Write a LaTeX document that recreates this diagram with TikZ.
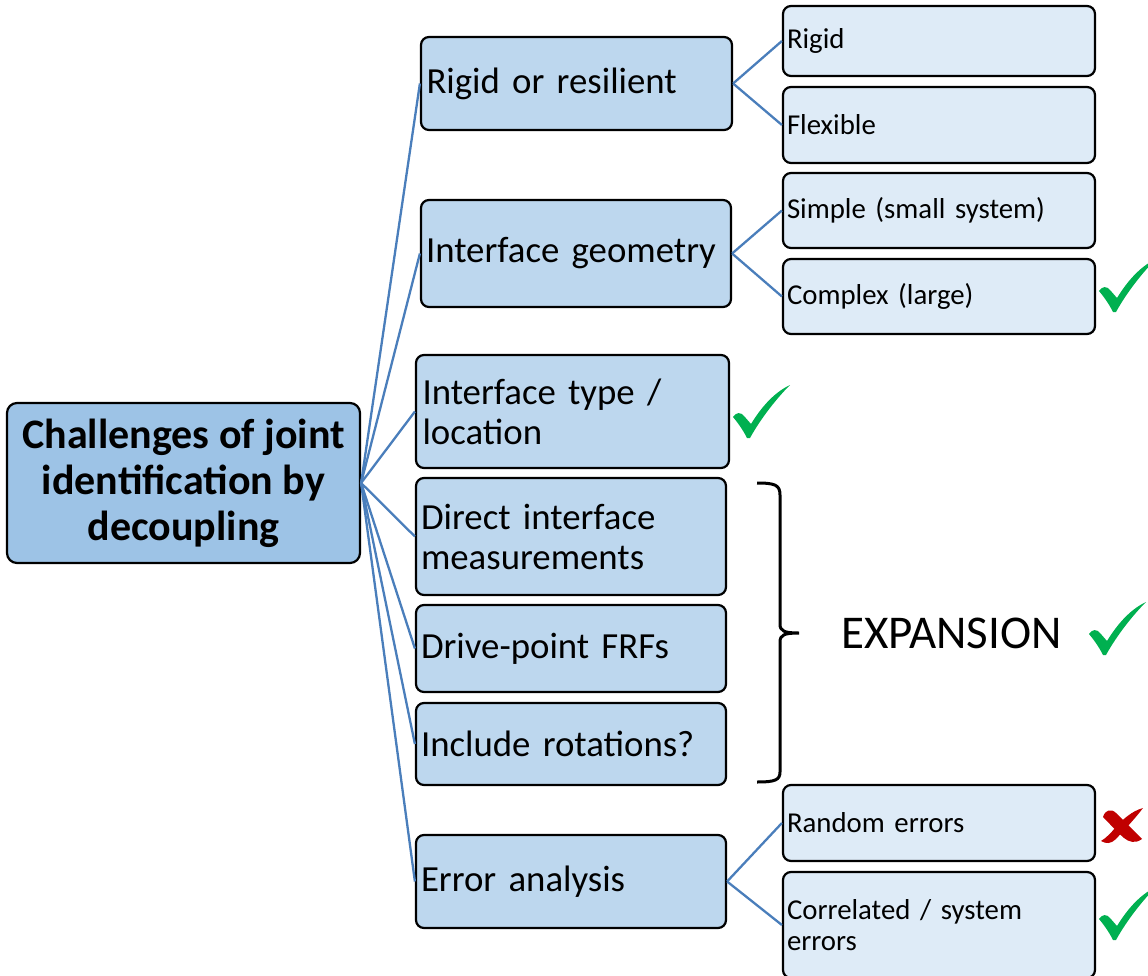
\documentclass[tikz,border=0pt]{standalone}
\usepackage{fontspec}
\setmainfont{Carlito}
\definecolor{rootfill}{HTML}{9DC3E6}
\definecolor{midfill}{HTML}{BDD7EE}
\definecolor{leaffill}{HTML}{DEEBF7}
\definecolor{connblue}{HTML}{4A7EBB}
\definecolor{chkgreen}{HTML}{00B050}
\definecolor{crossred}{HTML}{C00000}
\begin{document}
\begin{tikzpicture}[x=1pt,y=-1pt,
  rootbox/.style={draw=black, line width=2.2pt, rounded corners=10pt, fill=rootfill,
    align=center, inner sep=0pt, minimum width=353pt, minimum height=160pt,
    font=\fontsize{42}{46}\selectfont\bfseries},
  midbox/.style={draw=black, line width=2.2pt, rounded corners=8pt, fill=midfill,
    align=left, inner xsep=5pt, inner ysep=0pt, text width=300pt,
    font=\fontsize{36.8}{40}\selectfont},
  leafbox/.style={draw=black, line width=2.2pt, rounded corners=8pt, fill=leaffill,
    align=left, inner xsep=4pt, inner ysep=0pt, text width=304pt,
    font=\fontsize{28.8}{30.5}\selectfont},
  conn/.style={draw=connblue, line width=2.3pt},
  chk/.pic={\fill[chkgreen] (-14,-21) .. controls (-11,-26) and (-6,-26) .. (-3,-22)
      -- (4,-14) .. controls (15,-32) and (28,-46) .. (43,-53)
      .. controls (30,-40) and (14,-20) .. (3,0) -- (0,0)
      .. controls (-4,-8) and (-9,-15) .. (-14,-21) -- cycle;},
  crs/.pic={\fill[crossred] (-19,-9) .. controls (-17,-16) and (-11,-18) .. (-6,-13)
      .. controls (2,-5) and (10,3) .. (20,13) .. controls (13,18) and (7,16) .. (2,12)
      .. controls (-6,5) and (-13,-3) .. (-19,-9) -- cycle;
      \fill[crossred] (21,-18) .. controls (12,-6) and (2,4) .. (-6,13)
      .. controls (-11,18) and (-16,18) .. (-21,15) .. controls (-16,12) and (-11,7) .. (-7,2)
      .. controls (1,-7) and (10,-15) .. (21,-18) -- cycle;}
]
\useasboundingbox (0,0) rectangle (1148,976);
\clip (0,0) rectangle (1148,976);

% root
\node[rootbox] (root) at (183.5,483) {Challenges of joint\\identification by\\decoupling};

% level 1
\node[midbox, minimum width=311pt, minimum height=93pt]  (m1) at (576.5,83.5) {Rigid or resilient};
\node[midbox, minimum width=310pt, minimum height=107pt] (m2) at (576,253.5) {Interface geometry};
\node[midbox, minimum width=313pt, minimum height=113pt] (m3) at (572.5,411.5) {Interface type /\\location};
\node[midbox, minimum width=310pt, minimum height=117pt] (m4) at (571,536.5) {Direct interface\\measurements};
\node[midbox, minimum width=310pt, minimum height=87pt]  (m5) at (571,648.5) {Drive-point FRFs};
\node[midbox, minimum width=310pt, minimum height=82pt]  (m6) at (571,744) {Include rotations?};
\node[midbox, minimum width=310pt, minimum height=93pt]  (m7) at (571,881.5) {Error analysis};

% level 2
\node[leafbox, minimum width=312pt, minimum height=70pt]  (l1) at (939,41) {Rigid};
\node[leafbox, minimum width=312pt, minimum height=76pt]  (l2) at (939,125) {Flexible};
\node[leafbox, minimum width=312pt, minimum height=75pt]  (l3) at (939,210.5) {Simple (small system)};
\node[leafbox, minimum width=312pt, minimum height=75pt]  (l4) at (939,296.5) {Complex (large)};
\node[leafbox, minimum width=312pt, minimum height=76pt]  (l5) at (939,823) {Random errors};
\node[leafbox, minimum width=312pt, minimum height=106pt] (l6) at (939,925) {Correlated / system\\errors};

% connectors
\foreach \m in {m1,m2,m3,m4,m5,m6,m7}{\draw[conn] (root.east) -- (\m.west);}
\draw[conn] (m1.east) -- (l1.west);
\draw[conn] (m1.east) -- (l2.west);
\draw[conn] (m2.east) -- (l3.west);
\draw[conn] (m2.east) -- (l4.west);
\draw[conn] (m7.east) -- (l5.west);
\draw[conn] (m7.east) -- (l6.west);

% bracket
\coordinate (bt) at (757,483);
\coordinate (bm) at (799,633);
\coordinate (bb) at (757,782);
\draw[black, line width=3pt] (bt) .. controls (775,483) and (780,485) .. (780,495) -- (780,624)
  .. controls (780,631) and (784,633) .. (bm)
  .. controls (784,633) and (780,635) .. (780,642) -- (780,772)
  .. controls (780,780) and (775,782) .. (bb);
\node[anchor=base west, inner sep=0pt, font=\fontsize{47}{52}\selectfont] (exp) at (841,648) {EXPANSION};

% marks
\pic at (747,438) {chk};
\pic at (1113,312) {chk};
\pic at (1103,655) {chk};
\pic at (1113,940) {chk};
\pic at (1122,826) {crs};
\end{tikzpicture}
\end{document}
